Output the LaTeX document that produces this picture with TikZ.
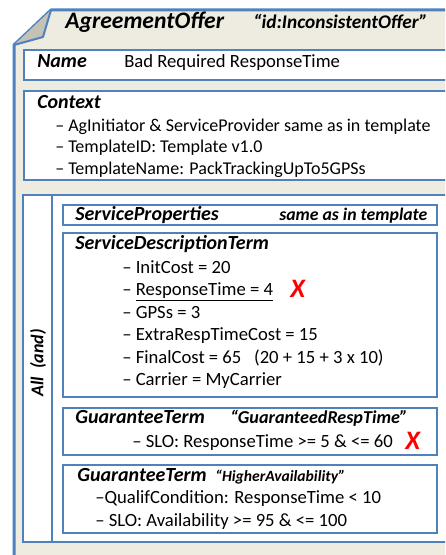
\documentclass[tikz,border=0pt]{standalone}
\usepackage{fontspec}
\setmainfont{Carlito}
\usepackage{xcolor}
\usepackage{tikz}

\definecolor{frameblue}{HTML}{4F81BD}
\definecolor{paper}{HTML}{EEECE1}
\definecolor{foldgray}{HTML}{C4C2B6}

\tikzset{
  box/.style={draw=frameblue, line width=1.5pt, fill=white},
  head/.style={anchor=base west, inner sep=0pt, font=\fontsize{15}{17}\selectfont\bfseries\itshape},
  note/.style={anchor=base west, inner sep=0pt, font=\fontsize{13.3}{15}\selectfont\bfseries\itshape},
  item/.style={anchor=base west, inner sep=0pt, font=\fontsize{14}{16}\selectfont},
  cross/.style={anchor=base west, inner sep=0pt, text=red, font=\fontsize{20}{21}\selectfont\bfseries\itshape}
}

\begin{document}
\begin{tikzpicture}[x=0.75pt,y=-0.75pt]
\useasboundingbox (0,0) rectangle (445,555);
\clip (0,0) rectangle (445,555);
% outer frame with folded corner
\fill[paper] (51,10) -- (470,10) -- (470,570) -- (14,570) -- (14,45) -- cycle;
\draw[frameblue, line width=2.25pt, line join=round] (470,10) -- (51,10) -- (14,45) -- (14,570);
\filldraw[fill=foldgray, draw=frameblue, line width=1.5pt, line join=round] (51,10) -- (43,37) -- (14,45);
\node[head, font=\fontsize{17.7}{19}\selectfont\bfseries\itshape] (offer) at (65,29) {AgreementOffer};
\node[note, font=\fontsize{14.5}{16}\selectfont\bfseries\itshape] (offerid) at (253,29) {“id:InconsistentOffer”};

% name
\draw[box] (24,50) rectangle (470,80);
\node[head] (name) at (37,68) {Name};
\node[item] (namev) at (124,68) {Bad Required ResponseTime};

% context
\draw[box] (24,91) rectangle (470,180);
\node[head] (context) at (37,109) {Context};
\node[item, font=\fontsize{13.5}{16}\selectfont] (ctx1) at (55,132) {– AgInitiator \& ServiceProvider same as in template};
\node[item, font=\fontsize{13.5}{16}\selectfont] (ctx2) at (55,153) {– TemplateID: Template v1.0};
\node[item, font=\fontsize{13.5}{16}\selectfont] (ctx3) at (55,175) {– TemplateName: PackTrackingUpTo5GPSs};

% all (and) block
\draw[box] (23,195) rectangle (470,542);
\draw[frameblue, line width=1.5pt] (52,195) -- (52,542);
\node[rotate=90, font=\fontsize{13.5}{15}\selectfont\bfseries\itshape] (alltag) at (38,363) {All\ \ (and)};

\draw[box, line width=1.2pt] (63,205) rectangle (437,225);
\node[head] (sp) at (75,221) {ServiceProperties};
\node[note] (spnote) at (279,221) {same as in template};

\draw[box, line width=1.2pt] (63,233) rectangle (437,397);
\node[head] (sdt) at (75,250) {ServiceDescriptionTerm};
\node[item] (sdt1) at (122,273) {– InitCost = 20};
\node[item] (sdt2) at (122,295) {– \underline{ResponseTime = 4}};
\node[item] (sdt3) at (122,318) {– GPSs = 3};
\node[item] (sdt4) at (122,340) {– ExtraRespTimeCost = 15};
\node[item] (sdt5) at (122,363) {– FinalCost = 65\ \ \ (20 + 15 + 3 x 10)};
\node[item] (sdt6) at (122,385) {– Carrier = MyCarrier};
\node[cross] (cross1) at (290,297) {X};

\draw[box, line width=1.2pt] (63,408) rectangle (437,455);
\node[head] (gt1) at (75,423) {GuaranteeTerm};
\node[head, font=\fontsize{13.6}{15}\selectfont\bfseries\itshape] (gt1id) at (230,423) {“GuaranteedRespTime”};
\node[item] (gt1slo) at (132,447) {– SLO: ResponseTime >= 5 \& <= 60};
\node[cross] (cross2) at (405,449) {X};

\draw[box, line width=1.2pt] (63,465) rectangle (437,533);
\node[head] (gt2) at (77,481) {GuaranteeTerm};
\node[note, font=\fontsize{11.7}{13}\selectfont\bfseries\itshape] (gt2id) at (215,481) {“HigherAvailability”};
\node[item] (gt2qc) at (95,503) {–QualifCondition: ResponseTime < 10};
\node[item] (gt2slo) at (95,526) {– SLO: Availability >= 95 \& <= 100};
\end{tikzpicture}
\end{document}
